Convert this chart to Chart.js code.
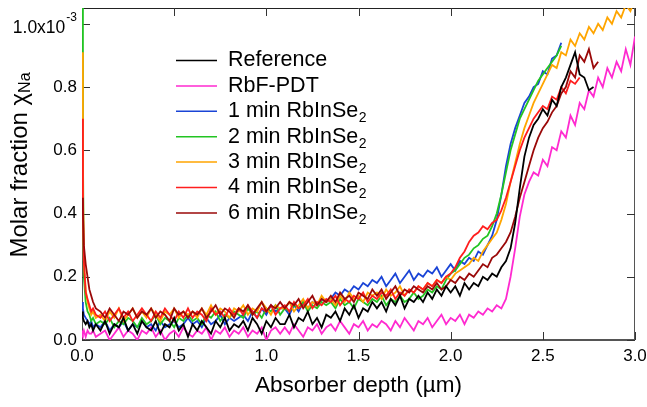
<!DOCTYPE html>
<html><head><meta charset="utf-8">
<script src="https://cdn.jsdelivr.net/npm/chart.js@4.4.1/dist/chart.umd.min.js"></script>
<style>html,body{margin:0;padding:0;background:#fff;}canvas{display:block;}</style>
</head><body>
<canvas id="c" width="647" height="407"></canvas>
<script>
// ---- data (molar fraction in units of 1e-3) ----
const depth = [0,0.005,0.01,0.02,0.03,0.04,0.05,0.06,0.075,
0.1,0.125,0.15,0.175,0.2,0.225,0.25,0.275,0.3,0.325,
0.35,0.375,0.4,0.425,0.45,0.475,0.5,0.525,0.55,0.575,
0.6,0.625,0.65,0.675,0.7,0.725,0.75,0.775,0.8,0.825,
0.85,0.875,0.9,0.925,0.95,0.975,1.0,1.025,1.05,1.075,
1.1,1.125,1.15,1.175,1.2,1.225,1.25,1.275,1.3,1.325,
1.35,1.375,1.4,1.425,1.45,1.475,1.5,1.525,1.55,1.575,
1.6,1.625,1.65,1.675,1.7,1.725,1.75,1.775,1.8,1.825,
1.85,1.875,1.9,1.925,1.95,1.975,2.0,2.025,2.05,2.075,
2.1,2.125,2.15,2.175,2.2,2.225,2.25,2.275,2.3,2.325,
2.35,2.375,2.4,2.425,2.45,2.475,2.5,2.525,2.55,2.575,
2.6,2.625,2.65,2.675,2.7,2.725,2.75,2.775,2.8,2.825,
2.85,2.875,2.9,2.925,2.95,2.975,3.0];

const reference = [0.09,0.07,0.06,0.05,0.06,0.04,0.05,0.03,0.05,
0.03,0.06,0.02,0.05,0.04,0.07,0.03,0.05,0.02,0.06,
0.04,0.03,0.06,0.02,0.05,0.04,0.07,0.03,0.05,0.01,
0.05,0.03,0.06,0.04,0.02,0.06,0.04,0.07,0.03,0.05,
0.04,0.06,0.03,0.07,0.05,0.02,0.06,0.04,0.07,0.05,
0.05,0.08,0.04,0.07,0.06,0.09,0.05,0.07,0.04,0.08,
0.07,0.09,0.06,0.1,0.08,0.11,0.07,0.1,0.09,0.12,
0.1,0.12,0.09,0.13,0.11,0.14,0.1,0.13,0.12,0.14,
0.12,0.15,0.13,0.16,0.14,0.17,0.15,0.17,0.14,0.18,
0.16,0.18,0.17,0.2,0.19,0.21,0.2,0.23,0.25,0.29,
0.37,0.48,0.58,0.64,0.68,0.7,0.73,0.71,0.76,0.74,
0.8,0.83,0.87,0.91,0.84,0.83,0.79,0.8];

const rbfPdt = [0.03,0.02,0.03,0.01,0.03,0.02,0.02,0.03,0.01,
0.02,0.03,0.0,0.02,0.04,0.01,0.03,0.02,0.0,0.03,
0.02,0.04,0.01,0.03,0.0,0.02,0.03,0.01,0.04,0.02,
0.01,0.03,0.02,0.04,0.0,0.03,0.02,0.04,0.01,0.03,
0.02,0.04,0.01,0.03,0.02,0.04,0.0,0.03,0.04,0.02,
0.04,0.02,0.05,0.03,0.01,0.04,0.03,0.05,0.02,0.04,
0.05,0.03,0.06,0.04,0.02,0.05,0.04,0.06,0.03,0.05,
0.04,0.06,0.05,0.03,0.06,0.04,0.07,0.05,0.03,0.06,
0.05,0.07,0.04,0.06,0.08,0.05,0.07,0.06,0.08,0.05,
0.08,0.07,0.09,0.08,0.1,0.09,0.11,0.1,0.13,0.2,
0.29,0.39,0.46,0.5,0.53,0.52,0.57,0.55,0.61,0.6,
0.66,0.64,0.71,0.68,0.75,0.73,0.79,0.77,0.83,0.8,
0.86,0.83,0.88,0.85,0.92,0.87,0.96];

const min1 = [0.12,0.1,0.08,0.07,0.06,0.05,0.06,0.04,0.05,
0.04,0.06,0.03,0.05,0.04,0.06,0.03,0.05,0.04,0.06,
0.04,0.05,0.03,0.06,0.04,0.05,0.06,0.04,0.05,0.07,
0.05,0.06,0.04,0.07,0.05,0.06,0.08,0.05,0.07,0.06,
0.07,0.08,0.06,0.09,0.07,0.1,0.08,0.11,0.09,0.1,
0.1,0.08,0.11,0.09,0.12,0.1,0.12,0.11,0.13,0.12,
0.13,0.15,0.14,0.16,0.15,0.17,0.16,0.18,0.17,0.19,
0.18,0.2,0.17,0.19,0.21,0.18,0.2,0.22,0.19,0.21,
0.2,0.22,0.21,0.23,0.2,0.22,0.24,0.22,0.25,0.24,
0.26,0.25,0.28,0.27,0.3,0.33,0.38,0.46,0.55,0.62,
0.67,0.71,0.75,0.77,0.8,0.81,0.85,0.84,0.89,0.9,
0.94];

const min2 = [1.2,0.6,0.2,0.12,0.09,0.08,0.06,0.07,0.05,
0.06,0.05,0.07,0.04,0.06,0.05,0.07,0.06,0.04,0.07,
0.05,0.06,0.08,0.05,0.07,0.06,0.04,0.07,0.06,0.08,
0.06,0.07,0.05,0.08,0.07,0.09,0.06,0.08,0.07,0.09,
0.08,0.07,0.1,0.08,0.09,0.07,0.1,0.09,0.11,0.08,
0.1,0.09,0.11,0.1,0.12,0.09,0.11,0.1,0.12,0.11,
0.12,0.1,0.13,0.11,0.12,0.1,0.13,0.12,0.11,0.13,
0.12,0.14,0.11,0.13,0.12,0.14,0.12,0.13,0.15,0.13,
0.14,0.16,0.15,0.17,0.16,0.19,0.21,0.22,0.24,0.26,
0.27,0.29,0.3,0.32,0.33,0.36,0.4,0.46,0.53,0.6,
0.65,0.7,0.73,0.76,0.79,0.82,0.84,0.86,0.88,0.9,
0.93];

const min3 = [0.91,0.5,0.25,0.16,0.12,0.1,0.08,0.09,0.07,
0.08,0.06,0.09,0.07,0.1,0.06,0.08,0.1,0.07,0.09,
0.07,0.1,0.08,0.06,0.09,0.08,0.1,0.07,0.09,0.08,
0.09,0.07,0.1,0.08,0.11,0.08,0.1,0.09,0.07,0.1,
0.09,0.11,0.08,0.1,0.09,0.12,0.1,0.08,0.11,0.1,
0.1,0.12,0.09,0.11,0.13,0.1,0.12,0.11,0.14,0.12,
0.13,0.11,0.14,0.12,0.15,0.13,0.14,0.12,0.15,0.14,
0.15,0.13,0.16,0.14,0.15,0.17,0.14,0.16,0.15,0.17,
0.16,0.18,0.17,0.19,0.18,0.2,0.19,0.21,0.22,0.23,
0.24,0.26,0.25,0.28,0.3,0.32,0.34,0.38,0.43,0.5,
0.56,0.62,0.67,0.71,0.75,0.78,0.81,0.84,0.87,0.86,
0.91,0.9,0.95,0.93,0.97,0.95,0.99,0.97,1.0,0.98,
1.02,1.0,1.04,1.02,1.06,1.04,1.08];

const min4 = [0.70,0.45,0.25,0.15,0.13,0.11,0.09,0.1,0.08,
0.07,0.09,0.06,0.08,0.1,0.07,0.09,0.06,0.08,0.1,
0.08,0.06,0.09,0.07,0.1,0.08,0.06,0.09,0.07,0.1,
0.07,0.09,0.08,0.06,0.1,0.08,0.09,0.07,0.1,0.08,
0.1,0.08,0.11,0.09,0.07,0.1,0.09,0.11,0.08,0.1,
0.11,0.09,0.12,0.1,0.11,0.13,0.1,0.12,0.11,0.13,
0.12,0.14,0.11,0.13,0.12,0.14,0.13,0.15,0.12,0.14,
0.13,0.15,0.14,0.16,0.13,0.15,0.14,0.16,0.15,0.17,
0.16,0.18,0.17,0.19,0.18,0.2,0.21,0.23,0.26,0.28,
0.31,0.33,0.34,0.36,0.35,0.37,0.38,0.41,0.45,0.5,
0.55,0.6,0.64,0.67,0.7,0.72,0.74,0.73,0.77,0.76,
0.8,0.78,0.82,0.81,0.83];

const min6 = [0.45,0.4,0.3,0.24,0.2,0.16,0.14,0.12,0.1,
0.09,0.07,0.1,0.08,0.06,0.09,0.08,0.1,0.07,0.09,
0.08,0.1,0.07,0.09,0.08,0.06,0.1,0.08,0.09,0.07,
0.09,0.08,0.1,0.07,0.09,0.11,0.08,0.1,0.09,0.07,
0.1,0.09,0.11,0.08,0.1,0.12,0.09,0.11,0.1,0.12,
0.1,0.12,0.11,0.13,0.1,0.12,0.14,0.11,0.13,0.12,
0.14,0.12,0.15,0.13,0.14,0.12,0.15,0.14,0.13,0.16,
0.14,0.16,0.13,0.15,0.17,0.14,0.16,0.15,0.17,0.16,
0.15,0.17,0.16,0.18,0.16,0.17,0.19,0.18,0.2,0.19,
0.21,0.2,0.22,0.24,0.23,0.26,0.27,0.29,0.31,0.34,
0.39,0.45,0.5,0.55,0.6,0.64,0.67,0.69,0.72,0.74,
0.78,0.8,0.85,0.83,0.9,0.88,0.92,0.86,0.88];

const legendText = ['Reference','RbF-PDT','1 min RbInSe','2 min RbInSe','3 min RbInSe','4 min RbInSe','6 min RbInSe'];
const legendSub  = ['','','2','2','2','2','2'];
const xTicks = [0,0.5,1.0,1.5,2.0,2.5,3.0];
const xTickLabels = ['0.0','0.5','1.0','1.5','2.0','2.5','3.0'];
const yTicks = [0,0.2,0.4,0.6,0.8,1.0];
const yTickLabels = ['0.0','0.2','0.4','0.6','0.8','1.0x10'];
const yExponent = '-3';

// ---- styling ----
const seriesValues = [reference, rbfPdt, min1, min2, min3, min4, min6];
const colors = ['#000000','#ff2ad0','#1a44d6','#22c422','#ffa500','#ff1e1e','#9a0808'];
const drawOrder = [0,6,5,4,3,2,1];
const FONT = '"Liberation Sans", Arial, sans-serif';

function txt(ctx, s, x, y, size, align, base) {
  ctx.font = size + 'px ' + FONT;
  ctx.textAlign = align; ctx.textBaseline = base;
  ctx.fillText(s, x, y);
}

const decor = {
  id: 'decor',
  beforeDatasetsDraw(chart) {
    const {ctx, chartArea: a, scales: {x, y}} = chart;
    ctx.save();
    ctx.lineWidth = 1;
    ctx.strokeStyle = '#222';
    ctx.beginPath(); ctx.moveTo(a.left, a.top + 0.5); ctx.lineTo(a.right, a.top + 0.5); ctx.stroke();
    ctx.strokeStyle = '#555';
    ctx.beginPath(); ctx.moveTo(a.right - 0.5, a.top); ctx.lineTo(a.right - 0.5, a.bottom); ctx.stroke();
    ctx.beginPath(); ctx.moveTo(a.left + 0.5, a.top); ctx.lineTo(a.left + 0.5, a.bottom); ctx.stroke();
    ctx.lineWidth = 2;
    ctx.beginPath(); ctx.moveTo(a.left, a.bottom); ctx.lineTo(a.right, a.bottom); ctx.stroke();
    ctx.lineWidth = 1; ctx.strokeStyle = '#333';
    const L = 8;
    xTicks.forEach(v => {
      const px = Math.round(x.getPixelForValue(v)) + 0.5;
      ctx.beginPath(); ctx.moveTo(px, a.bottom); ctx.lineTo(px, a.bottom - L); ctx.stroke();
      ctx.beginPath(); ctx.moveTo(px, a.top); ctx.lineTo(px, a.top + L); ctx.stroke();
    });
    yTicks.forEach(v => {
      const py = Math.round(y.getPixelForValue(v)) + 0.5;
      ctx.beginPath(); ctx.moveTo(a.left, py); ctx.lineTo(a.left + L, py); ctx.stroke();
      ctx.beginPath(); ctx.moveTo(a.right, py); ctx.lineTo(a.right - L, py); ctx.stroke();
    });
    ctx.restore();
  },
  afterDraw(chart) {
    const {ctx, chartArea: a, scales: {x, y}} = chart;
    ctx.save();
    ctx.fillStyle = '#000';
    xTicks.forEach((v, i) => txt(ctx, xTickLabels[i], x.getPixelForValue(v), 356, 17, 'center', 'middle'));
    yTicks.forEach((v, i) => {
      const py = y.getPixelForValue(v);
      if (i === yTicks.length - 1) {
        ctx.font = '12px ' + FONT;
        const we = ctx.measureText(yExponent).width;
        txt(ctx, yExponent, 77, py - 6, 12, 'right', 'middle');
        txt(ctx, yTickLabels[i], 77 - we - 1, py + 4, 17.5, 'right', 'middle');
      } else {
        txt(ctx, yTickLabels[i], 77, py, 17, 'right', 'middle');
      }
    });
    txt(ctx, 'Absorber depth (\u00b5m)', (a.left + a.right) / 2, 386, 22.5, 'center', 'middle');
    ctx.save();
    ctx.translate(20, 165);
    ctx.rotate(-Math.PI / 2);
    ctx.font = '24px ' + FONT;
    const main = 'Molar fraction \u03c7';
    const wm = ctx.measureText(main).width;
    ctx.font = '16px ' + FONT;
    const ws = ctx.measureText('Na').width;
    const start = -(wm + ws) / 2;
    txt(ctx, main, start, 0, 24, 'left', 'middle');
    txt(ctx, 'Na', start + wm, 6, 16, 'left', 'middle');
    ctx.restore();
    legendText.forEach((t, i) => {
      const ly = 60.5 + i * 25.4;
      ctx.strokeStyle = colors[i]; ctx.lineWidth = 1.5;
      ctx.beginPath(); ctx.moveTo(176, ly); ctx.lineTo(217, ly); ctx.stroke();
      txt(ctx, t, 228, ly, 21.5, 'left', 'middle');
      if (legendSub[i]) {
        ctx.font = '21.5px ' + FONT;
        const w = ctx.measureText(t).width;
        txt(ctx, legendSub[i], 228 + w + 0.5, ly + 7, 14, 'left', 'middle');
      }
    });
    ctx.restore();
  }
};

const datasets = seriesValues.map((vals, i) => ({
  label: legendText[i] + legendSub[i],
  data: vals.map((v, k) => ({x: depth[k], y: v})),
  borderColor: colors[i],
  borderWidth: 1.8,
  pointRadius: 0,
  tension: 0,
  fill: false,
  order: drawOrder[i]
}));

new Chart(document.getElementById('c'), {
  type: 'line',
  data: {datasets},
  options: {
    responsive: false,
    animation: false,
    devicePixelRatio: 1,
    layout: {padding: {left: 0, right: 12, top: 8, bottom: 0}},
    plugins: {legend: {display: false}, tooltip: {enabled: false}},
    scales: {
      x: {type: 'linear', min: 0, max: 3.0,
          grid: {display: false}, border: {display: false},
          ticks: {display: false},
          afterFit: s => { s.height = 67; }},
      y: {type: 'linear', min: 0, max: 1.05,
          grid: {display: false}, border: {display: false},
          ticks: {display: false},
          afterFit: s => { s.width = 82; }}
    }
  },
  plugins: [decor]
});
</script>
</body></html>
